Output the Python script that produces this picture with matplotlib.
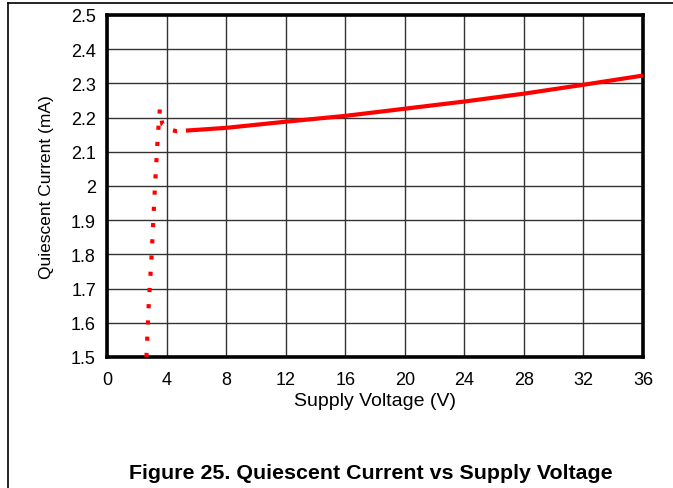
import matplotlib
matplotlib.use("Agg")
import matplotlib.pyplot as plt
from matplotlib.lines import Line2D

plt.rcParams['font.family'] = ['Liberation Sans', 'DejaVu Sans']

# Start-up region (supply below ~5 V), drawn dotted
v_start = [2.65, 2.8, 3.0, 3.2, 3.38, 3.47, 3.55, 3.72, 4.2, 4.7, 5.3]
i_start = [1.50, 1.65, 1.80, 1.98, 2.12, 2.18, 2.225, 2.18, 2.165, 2.16, 2.162]

# Regulated region, drawn solid
v_main = [5.3, 8, 12, 16, 20, 24, 28, 32, 36]
i_main = [2.162, 2.170, 2.188, 2.205, 2.226, 2.247, 2.270, 2.296, 2.323]

x_ticks = [0, 4, 8, 12, 16, 20, 24, 28, 32, 36]
y_ticks = [1.5, 1.6, 1.7, 1.8, 1.9, 2.0, 2.1, 2.2, 2.3, 2.4, 2.5]
y_tick_labels = ["1.5", "1.6", "1.7", "1.8", "1.9", "2", "2.1", "2.2", "2.3", "2.4", "2.5"]

fig = plt.figure(figsize=(6.73, 4.89), dpi=100)
ax = fig.add_axes([107/673, 1 - 358/489, (643 - 107)/673, (358 - 16)/489])

ax.plot(v_start, i_start, color='#ff0000', lw=3, linestyle=(0, (1, 2.9)),
        dash_capstyle='butt', zorder=3)
ax.plot(v_main, i_main, color='#ff0000', lw=3, solid_capstyle='butt', zorder=3)

ax.set_xlim(0, 36)
ax.set_ylim(1.5, 2.5)
ax.set_xticks(x_ticks)
ax.set_yticks(y_ticks)
ax.set_yticklabels(y_tick_labels)
ax.tick_params(length=0, labelsize=13)
ax.tick_params(axis='x', pad=10)
ax.tick_params(axis='y', pad=8)
ax.grid(True, color='#333333', lw=1.0)
ax.set_axisbelow(True)
for s in ax.spines.values():
    s.set_linewidth(2.6)
    s.set_color('black')

ax.set_xlabel("Supply Voltage (V)", fontsize=14, labelpad=3)
ax.set_ylabel("Quiescent Current (mA)", fontsize=12.5, labelpad=12)

fig.text(371/673, 1 - 474/489, "Figure 25. Quiescent Current vs Supply Voltage",
         ha='center', va='center', fontsize=15.4, fontweight='bold')

# Page frame lines
fig.add_artist(Line2D([8/673, 1.0], [1 - 3.5/489, 1 - 3.5/489], color='black', lw=1.2))
fig.add_artist(Line2D([8/673, 8/673], [0, 1 - 3.5/489], color='black', lw=1.2))

fig.savefig("out.png", dpi=100)
